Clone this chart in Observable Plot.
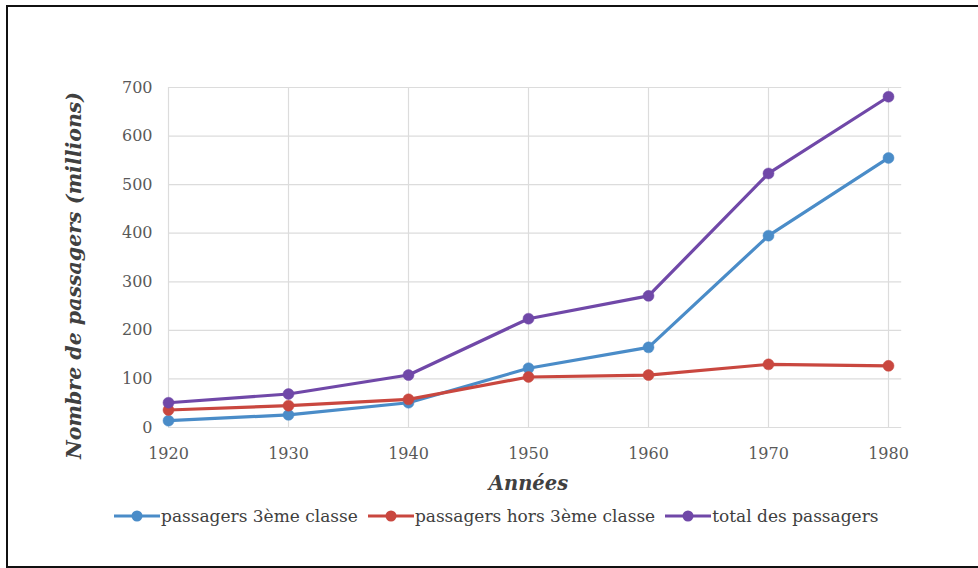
<!DOCTYPE html>
<html>
<head>
<meta charset="utf-8">
<script src="https://cdn.jsdelivr.net/npm/d3@7"></script>
<script src="https://cdn.jsdelivr.net/npm/@observablehq/plot@0.6"></script>
<style>
  html, body { margin: 0; padding: 0; background: #fff; }
  #wrap { position: relative; width: 978px; height: 568px; overflow: hidden; background: #fff; }
  #frame { position: absolute; left: 6px; top: 5px; width: 990px; height: 563px; border: 2px solid #111; box-sizing: border-box; }
  #chart { position: absolute; left: 0; top: 0; }
  #legend { position: absolute; top: 506px; left: 114px; display: flex; align-items: center;
    font-family: "DejaVu Serif", serif; font-size: 17px; color: #404040; white-space: nowrap; }
  .item { display: flex; align-items: center; margin-right: 10px; }
  .item svg { margin-right: 1px; }
  svg text { font-variant-numeric: oldstyle-nums; }
</style>
</head>
<body>
<div id="wrap">
  <div id="frame"></div>
  <div id="chart"></div>
  <div id="legend"></div>
</div>
<script>
const years = [1920, 1930, 1940, 1950, 1960, 1970, 1980];
const troisieme = [14, 26, 51, 122, 165, 395, 555];
const horsTroisieme = [36, 45, 58, 104, 108, 130, 127];
const total = [51, 69, 108, 224, 271, 523, 681];
const seriesNames = ["passagers 3ème classe", "passagers hors 3ème classe", "total des passagers"];
const seriesColors = ["#4A8CC8", "#C9473F", "#7048A8"];
const yTicks = [0, 100, 200, 300, 400, 500, 600, 700];

const seriesValues = [troisieme, horsTroisieme, total];
const rows = [];
seriesValues.forEach((vals, s) => vals.forEach((v, i) => rows.push({year: years[i], value: v, series: seriesNames[s]})));

const font = '"DejaVu Serif", serif';
const chart = Plot.plot({
  width: 978,
  height: 500,
  marginLeft: 168,
  marginRight: 90,
  marginTop: 87,
  marginBottom: 73,
  style: {fontFamily: font, fontSize: "15px", color: "#595959", background: "transparent"},
  x: {domain: [1920, 1980]},
  y: {domain: [0, 700]},
  color: {domain: seriesNames, range: seriesColors},
  marks: [
    Plot.ruleY(yTicks, {x1: 1920, x2: 1981.1, stroke: "#dcdcdc", strokeWidth: 1.2}),
    Plot.ruleX(years, {y1: 0, y2: 700, stroke: "#dcdcdc", strokeWidth: 1.2}),
    Plot.axisX({ticks: years, tickFormat: d => String(d), tickSize: 0, tickPadding: 20, label: null, fontSize: 16}),
    Plot.axisY({ticks: yTicks, tickSize: 0, tickPadding: 16, label: null, fontSize: 16}),
    Plot.line(rows, {x: "year", y: "value", stroke: "series", z: "series", strokeWidth: 3.2}),
    Plot.dot(rows, {x: "year", y: "value", fill: "series", r: 5.5, stroke: "series", strokeWidth: 0.5}),
    Plot.text(["Nombre de passagers (millions)"], {frameAnchor: "left", textAnchor: "middle", rotate: -90, dx: -94, dy: 18,
      fontSize: 20.5, fontWeight: "bold", fontStyle: "italic", fill: "#404040", fontFamily: font}),
    Plot.text(["Années"], {frameAnchor: "bottom", dy: 62,
      fontSize: 19.5, fontWeight: "bold", fontStyle: "italic", fill: "#404040", fontFamily: font})
  ]
});
document.getElementById("chart").appendChild(chart);

const legend = document.getElementById("legend");
seriesNames.forEach((name, i) => {
  const item = document.createElement("div");
  item.className = "item";
  item.innerHTML = `<svg width="46" height="14"><line x1="0" y1="7" x2="46" y2="7" stroke="${seriesColors[i]}" stroke-width="3.2"/><circle cx="23" cy="7" r="5.5" fill="${seriesColors[i]}"/></svg><span>${name}</span>`;
  legend.appendChild(item);
});
</script>
</body>
</html>
